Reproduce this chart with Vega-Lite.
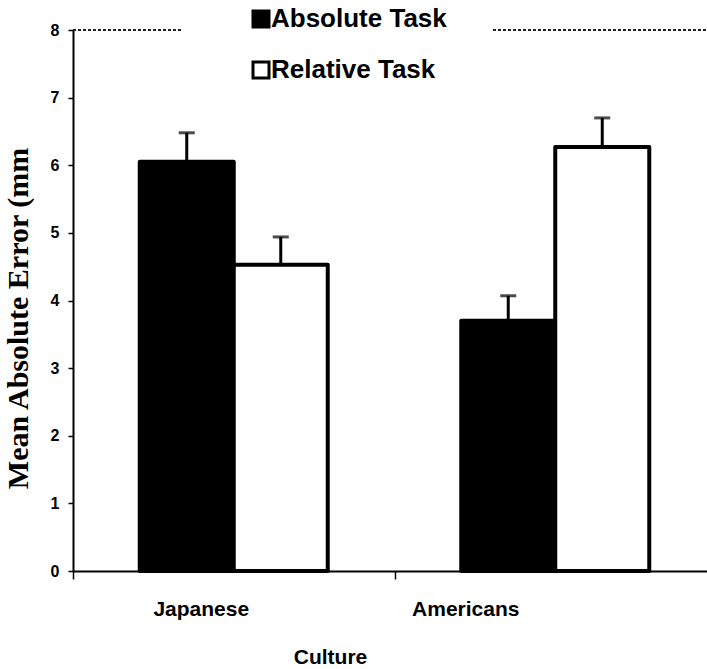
{
  "$schema": "https://vega.github.io/schema/vega-lite/v6.json",
  "autosize": {"type": "none"},
  "padding": {"left": 73, "top": 30, "right": -9, "bottom": 98},
  "width": 643,
  "height": 541,
  "background": "white",
  "config": {"view": {"stroke": null}},
  "data": {"values": [
    {"culture": "Japanese", "task": "Absolute Task", "mean": 6.05, "upper": 6.48},
    {"culture": "Japanese", "task": "Relative Task", "mean": 4.53, "upper": 4.94},
    {"culture": "Americans", "task": "Absolute Task", "mean": 3.70, "upper": 4.07},
    {"culture": "Americans", "task": "Relative Task", "mean": 6.27, "upper": 6.70}
  ]},
  "encoding": {
    "x": {
      "field": "culture", "type": "nominal", "sort": ["Japanese", "Americans"],
      "scale": {"paddingInner": 0, "paddingOuter": 0},
      "axis": {
        "title": "Culture", "titleFont": "Liberation Sans", "titleFontWeight": "bold", "titleFontSize": 21, "titleColor": "black",
        "titleX": 257, "titleY": 92, "titleAlign": "center", "titleBaseline": "alphabetic", "titleAnchor": null,
        "labelFont": "Liberation Sans", "labelFontWeight": "bold", "labelFontSize": 21, "labelColor": "black",
        "labelAngle": 0, "labelPadding": 19, "labelBaseline": "top",
        "labelOffset": {"condition": {"test": "datum.value === 'Japanese'", "value": -33}, "value": -90},
        "tickBand": "extent", "tickSize": 8, "tickColor": "black", "tickWidth": 1.5,
        "domainColor": "black", "domainWidth": 2
      }
    },
    "xOffset": {"field": "task", "type": "nominal", "sort": ["Absolute Task", "Relative Task"], "scale": {"paddingInner": 0, "paddingOuter": 0.71}}
  },
  "layer": [
    {
      "mark": {"type": "rule", "strokeDash": [3, 2], "strokeWidth": 2, "color": "#222"},
      "encoding": {"y": {"datum": 8, "type": "quantitative"}, "x": null, "xOffset": null}
    },
    {
      "mark": {"type": "bar", "stroke": "black", "strokeWidth": 4, "strokeJoin": "round"},
      "encoding": {
        "y": {
          "field": "mean", "type": "quantitative",
          "scale": {"domain": [0, 8], "nice": false},
          "axis": {
            "title": "Mean Absolute Error (mm", "titleFont": "Liberation Serif", "titleFontWeight": "bold", "titleFontSize": 30, "titleColor": "black",
            "titleX": -55, "titleY": 288, "titleAngle": 270, "titleAlign": "center", "titleBaseline": "middle", "titleAnchor": null,
            "values": [0, 1, 2, 3, 4, 5, 6, 7, 8], "format": "d", "grid": false,
            "labelFont": "Liberation Sans", "labelFontWeight": "bold", "labelFontSize": 16, "labelColor": "black", "labelPadding": 9,
            "tickSize": 5, "tickColor": "black", "tickWidth": 1.5,
            "domainColor": "black", "domainWidth": 2
          }
        },
        "fill": {
          "field": "task", "type": "nominal",
          "scale": {"domain": ["Absolute Task", "Relative Task"], "range": ["black", "white"]},
          "legend": {
            "title": null,
            "orient": "none", "legendX": 109, "legendY": -70,
            "padding": 46, "fillColor": "white", "symbolOffset": 20, "labelOffset": -3, "rowPadding": 23,
            "symbolType": "square", "symbolSize": 256, "symbolStrokeColor": "black", "symbolStrokeWidth": 3,
            "labelFont": "Liberation Sans", "labelFontWeight": "bold", "labelFontSize": 26, "labelColor": "black",
            "labelLimit": 500,
            "encode": {"symbols": {"update": {"stroke": {"value": "black"}, "strokeWidth": {"value": 3}, "opacity": {"value": 1}}}}
          }
        }
      }
    },
    {
      "mark": {"type": "rule", "strokeWidth": 3, "color": "black"},
      "encoding": {"y": {"field": "mean", "type": "quantitative"}, "y2": {"field": "upper"}}
    },
    {
      "mark": {"type": "tick", "orient": "horizontal", "size": 16, "thickness": 3, "color": "black"},
      "encoding": {"y": {"field": "upper", "type": "quantitative"}}
    }
  ]
}
